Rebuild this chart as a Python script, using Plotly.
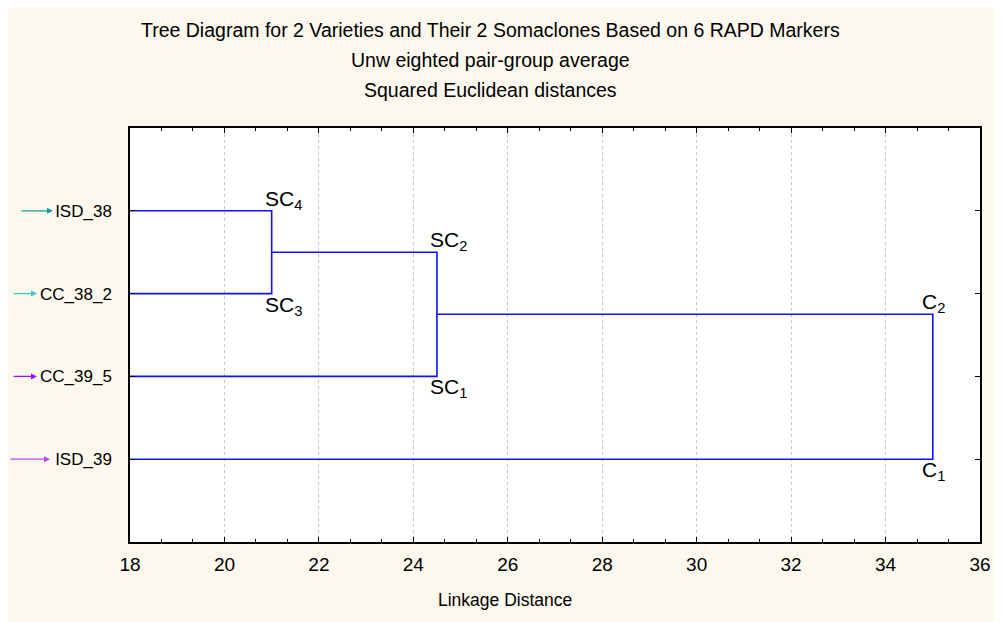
import plotly.graph_objects as go

# ---- data ----
leaves = ["ISD_38", "CC_38_2", "CC_39_5", "ISD_39"]
leaf_pos = [1, 2, 3, 4]
arrow_colors = ["#169c9c", "#40c4c4", "#9a10ff", "#b048f0"]
# merges: (child a, child b, linkage distance)
merge_a = ["ISD_38", "N1", "N2"]
merge_b = ["CC_38_2", "CC_39_5", "ISD_39"]
merge_dist = [21.0, 24.5, 35.0]
merge_names = ["N1", "N2", "N3"]
label_upper = ["SC<sub>4</sub>", "SC<sub>2</sub>", "C<sub>2</sub>"]
label_lower = ["SC<sub>3</sub>", "SC<sub>1</sub>", "C<sub>1</sub>"]
x_ticks = [18, 20, 22, 24, 26, 28, 30, 32, 34, 36]

title_lines = [
    "Tree Diagram for 2 Varieties and Their 2 Somaclones Based on 6 RAPD Markers",
    "Unw eighted pair-group average",
    "Squared Euclidean distances",
]

CREAM = "#FDF8EE"
FONT = "Liberation Sans, Arial, sans-serif"

# page offset (browser body margin) and figure geometry
OFF = 8
W, H = 1002 - OFF, 622 - OFF
L, R, T, B = 130 - OFF, 980 - OFF, 128 - OFF, 542 - OFF
PW, PH = R - L, B - T

def px_to_paper_x(px):  # px in page coordinates
    return (px - OFF - L) / PW

def py_to_paper_y(py):
    return (B - (py - OFF)) / PH

label_xshift = [-9, -9, -13]

# node positions
pos = {n: (0.0, p) for n, p in zip(leaves, leaf_pos)}
xs, ys = [], []
annos = []
for a, b, d, name, lu, ll, xsft in zip(merge_a, merge_b, merge_dist, merge_names,
                                       label_upper, label_lower, label_xshift):
    ha, ya = pos[a]
    hb, yb = pos[b]
    xs += [ha, d, d, hb, None]
    ys += [ya, ya, yb, yb, None]
    pos[name] = (d, (ya + yb) / 2)
    annos.append(dict(x=d, y=ya, xref="x", yref="y", text=lu, showarrow=False,
                      xanchor="left", yanchor="bottom", xshift=xsft, yshift=-4,
                      font=dict(family=FONT, size=21, color="#000")))
    annos.append(dict(x=d, y=yb, xref="x", yref="y", text=ll, showarrow=False,
                      xanchor="left", yanchor="top", xshift=xsft, yshift=3,
                      font=dict(family=FONT, size=21, color="#000")))

fig = go.Figure()
fig.add_trace(go.Scatter(x=xs, y=ys, mode="lines",
                         line=dict(color="#1010ff", width=1.6),
                         hoverinfo="skip", showlegend=False))

# arrows to leaf labels
heads = [53, 37, 37, 50]
tails = [20, 12, 12, 9]
for lp, col, h, t in zip(leaf_pos, arrow_colors, heads, tails):
    annos.append(dict(x=px_to_paper_x(h), y=lp, xref="paper", yref="y",
                      ax=t - h, ay=0, axref="pixel", ayref="pixel",
                      text="", showarrow=True, arrowhead=2, arrowsize=1,
                      arrowwidth=1.2, arrowcolor=col))

# title lines
for txt, yy in zip(title_lines, [30, 60, 90]):
    annos.append(dict(x=px_to_paper_x(490), y=py_to_paper_y(yy), xref="paper", yref="paper",
                      text=txt, showarrow=False, xanchor="center", yanchor="middle",
                      font=dict(family=FONT, size=19.5, color="#000")))

# axis title
annos.append(dict(x=px_to_paper_x(505), y=py_to_paper_y(600), xref="paper", yref="paper",
                  text="Linkage Distance", showarrow=False, xanchor="center", yanchor="middle",
                  font=dict(family=FONT, size=17.5, color="#000")))

fig.update_layout(
    width=W, height=H,
    margin=dict(l=L, r=W - R, t=T, b=H - B, pad=0),
    paper_bgcolor=CREAM, plot_bgcolor="white",
    showlegend=False,
    annotations=annos,
)
fig.update_xaxes(range=[18, 36], tickvals=x_ticks, ticks="inside", ticklen=5,
                 tickcolor="#000", showline=True, linecolor="#000", linewidth=1.5,
                 mirror="ticks", showgrid=True, gridcolor="#c4c4c4", griddash="dot",
                 gridwidth=1, zeroline=False, ticklabelstandoff=4,
                 tickfont=dict(family=FONT, size=19, color="#000"),
                 minor=dict(dtick=2 / 3, tick0=18, ticks="inside", ticklen=3,
                            tickcolor="#000", showgrid=False))
fig.update_yaxes(range=[5, 0], tickvals=leaf_pos, ticktext=leaves, ticks="inside", ticklen=5,
                 tickcolor="#000", showline=True, linecolor="#000", linewidth=1.5,
                 mirror="ticks", showgrid=False, zeroline=False, ticklabelstandoff=13,
                 tickfont=dict(family=FONT, size=17, color="#000"))

fig.write_html("out.html")
